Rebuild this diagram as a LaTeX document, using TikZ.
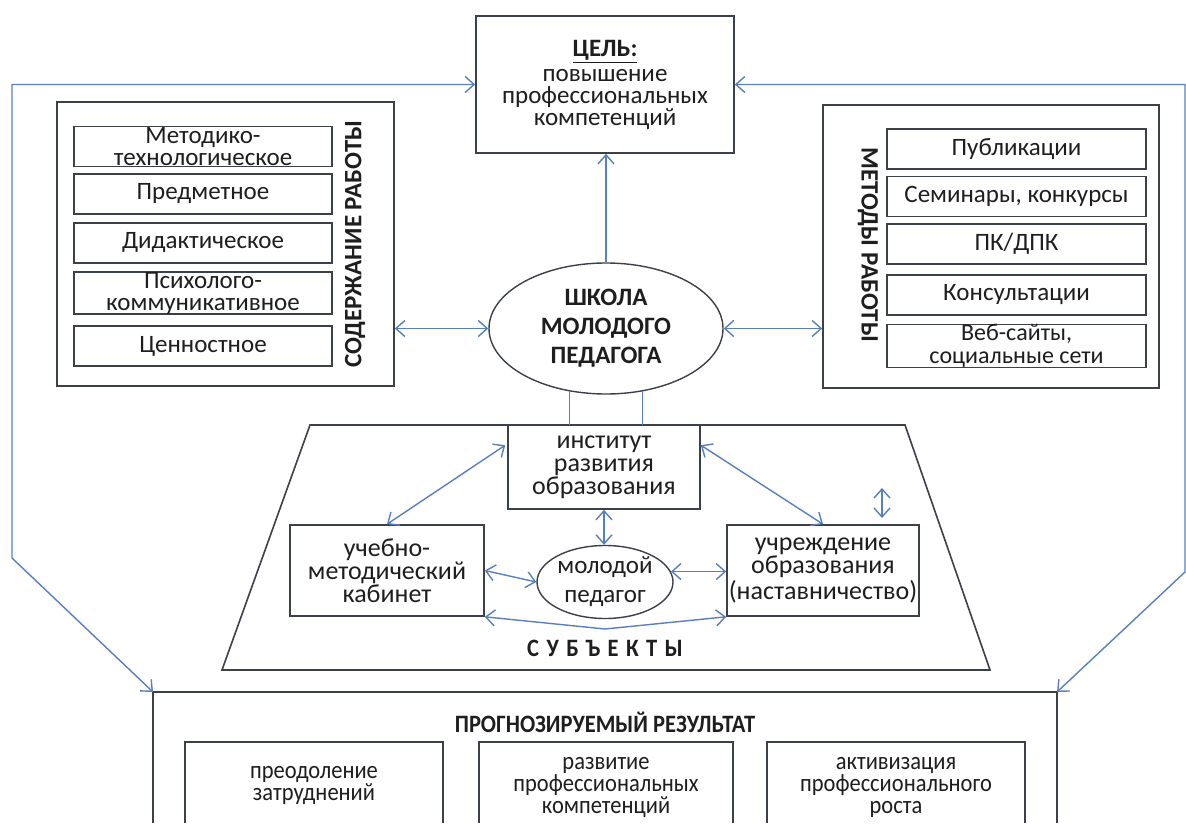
\documentclass[tikz,border=0pt]{standalone}
\usepackage{fontspec}
\setmainfont{Carlito}
\newfontfamily\condfont[FakeStretch=0.9]{Carlito}
\newfontfamily\spacedfont[FakeStretch=0.9,LetterSpace=30]{Carlito}
\usetikzlibrary{arrows.meta,shapes.geometric,calc}
\definecolor{connc}{RGB}{88,128,188}
\definecolor{boxc}{RGB}{60,64,72}
\definecolor{txtc}{RGB}{30,30,30}
\begin{document}
\begin{tikzpicture}[x=0.5pt,y=-0.5pt,
  >={Straight Barb[length=4.5pt,width=8pt]},
  every node/.style={text=txtc},
  box/.style={draw=boxc, line width=0.8pt, rectangle, inner sep=0pt, align=center,
    font=\fontsize{12.5pt}{11pt}\selectfont},
  sbox/.style={box, font=\fontsize{13pt}{11.5pt}\selectfont},
  citem/.style={box, minimum width=129pt, minimum height=20pt},
  mitem/.style={box, minimum width=129.5pt, minimum height=20pt},
  vlabel/.style={font=\bfseries\fontsize{12.5pt}{14pt}\selectfont, inner sep=0pt},
  conn/.style={draw=connc, line width=0.7pt},
  frame/.style={draw=boxc, line width=0.8pt}
]
\useasboundingbox[fill=white] (0,0) rectangle (1186,823);

% goal
\node[box, minimum width=129pt, minimum height=68.5pt] (goal) at (605,84.5)
  {\textbf{\underline{ЦЕЛЬ:}}\\[1.5pt]повышение\\профессиональных\\компетенций};

% content of work
\node[box, minimum width=168.5pt, minimum height=142pt] (content) at (225.5,244) {};
\node[citem] (c1) at (203,146.5) {Методико-\\технологическое};
\node[citem] (c2) at (203,194) {Предметное};
\node[citem] (c3) at (203,243) {Дидактическое};
\node[citem] (c4) at (203,293) {Психолого-\\коммуникативное};
\node[citem] (c5) at (203,346) {Ценностное};
\node[vlabel, rotate=90] (clab) at (355,244) {СОДЕРЖАНИЕ РАБОТЫ};

% methods of work
\node[box, minimum width=168pt, minimum height=141.5pt] (methods) at (991,246.5) {};
\node[mitem] (m1) at (1016.5,149) {Публикации};
\node[mitem] (m2) at (1016.5,196.5) {Семинары, конкурсы};
\node[mitem] (m3) at (1016.5,244) {ПК/ДПК};
\node[mitem] (m4) at (1016.5,295) {Консультации};
\node[mitem, font=\fontsize{12pt}{11.5pt}\selectfont] (m5) at (1016.5,346) {Веб-сайты,\\социальные сети};
\node[vlabel, rotate=-90] (mlab) at (868,245) {МЕТОДЫ РАБОТЫ};

% school
\node[ellipse, draw=boxc, line width=0.7pt, minimum width=117pt, minimum height=65.5pt,
  inner sep=0pt, align=center, font=\bfseries\fontsize{12.5pt}{14.5pt}\selectfont]
  (school) at (606,328.5) {ШКОЛА\\МОЛОДОГО\\ПЕДАГОГА};

% subjects trapezoid
\coordinate (tTL) at (310,425);
\coordinate (tTR) at (905,425);
\coordinate (tBR) at (990,670);
\coordinate (tBL) at (222,670);
\draw[frame] (tTL) -- (tTR) -- (tBR) -- (tBL) -- cycle;

\node[sbox, minimum width=96pt, minimum height=42pt] (inst) at (604,467)
  {институт\\развития\\образования};
\node[sbox, minimum width=97pt, minimum height=45.5pt] (uchebno) at (387,570.5)
  {учебно-\\методический\\кабинет};
\node[sbox, minimum width=96pt, minimum height=45.5pt] (uchr) at (823,570.5)
  {учреждение\\образования\\(наставничество)};
\node[ellipse, draw=boxc, line width=0.7pt, minimum width=68pt, minimum height=36.5pt,
  inner sep=0pt, align=center, font=\fontsize{12.5pt}{14.5pt}\selectfont]
  (young) at (605,582) {молодой\\педагог};
\node[font=\spacedfont\bfseries\fontsize{12.5pt}{14pt}\selectfont] (subj) at (605,648) {СУБЪЕКТЫ};

% result
\coordinate (resTL) at (153,692);
\coordinate (resTR) at (1057,692);
\draw[frame] (153,823) -- (resTL) -- (resTR) -- (1057,823);
\node[font=\condfont\bfseries\fontsize{12.5pt}{14pt}\selectfont] (restitle) at (605,722)
  {ПРОГНОЗИРУЕМЫЙ РЕЗУЛЬТАТ};
\draw[frame] (185,823) -- (185,742) -- (443,742) -- (443,823);
\draw[frame] (479,823) -- (479,742) -- (733,742) -- (733,823);
\draw[frame] (767,823) -- (767,742) -- (1025,742) -- (1025,823);
\node[align=center, font=\condfont\fontsize{12.5pt}{11pt}\selectfont] (r1) at (314,785)
  {преодоление\\затруднений};
\node[align=center, font=\condfont\fontsize{12.5pt}{11pt}\selectfont] (r2) at (606,787)
  {развитие\\профессиональных\\компетенций};
\node[align=center, font=\condfont\fontsize{12.5pt}{11pt}\selectfont] (r3) at (896,787)
  {активизация\\профессионального\\роста};

% connectors
\draw[conn,->] (school.north) -- (school.north |- goal.south);
\draw[conn,<->] (school.west) -- (school.west -| content.east);
\draw[conn,<->] (school.east) -- (school.east -| methods.west);
\coordinate (lc1) at (12,558);
\coordinate (rc1) at (1185,572);
\draw[conn,<->] (resTL) -- (lc1) -- (lc1 |- goal.west) -- (goal.west);
\draw[conn,<->] (resTR) -- (rc1) -- (rc1 |- goal.east) -- (goal.east);
\draw[conn] (school.240) -- (school.240 |- tTL);
\draw[conn] (school.300) -- (school.300 |- tTL);
\draw[conn,<->] (inst.south) -- (inst.south |- young.north);
\draw[conn,<->] ($(inst.north west)+(-2,21)$) -- (uchebno.north);
\draw[conn,<->] ($(inst.north east)+(0,21)$) -- (uchr.north);
\draw[conn,<->] (uchebno.east) -- (young.west);
\draw[conn,<->] (young.9) -- (young.9 -| uchr.west);
\coordinate (vmid) at (605,629);
\draw[conn,<->] (uchebno.south east) -- (vmid) -- (uchr.south west);
\coordinate (sa1) at (882,488);
\coordinate (sa2) at (882,518);
\draw[conn,<->] (sa1) -- (sa2);
\end{tikzpicture}
\end{document}
